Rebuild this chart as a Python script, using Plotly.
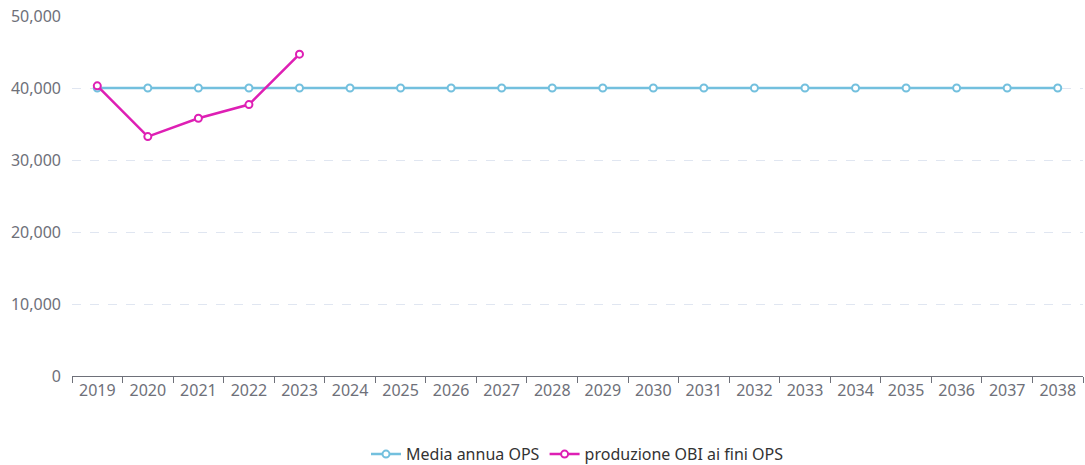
import plotly.graph_objects as go

years = [str(y) for y in range(2019, 2039)]
media_annua = [40000] * 20
produzione_years = ["2019", "2020", "2021", "2022", "2023"]
produzione = [40300, 33250, 35800, 37700, 44700]

blue = "#73C0DE"
magenta = "#DE1FB4"
font_family = "Noto Sans, Open Sans, sans-serif"

fig = go.Figure()
fig.add_trace(go.Scatter(
    x=years, y=media_annua, name="Media annua OPS", mode="lines+markers",
    line=dict(color=blue, width=2.5),
    marker=dict(symbol="circle", size=7, color="white", line=dict(color=blue, width=2)),
))
fig.add_trace(go.Scatter(
    x=produzione_years, y=produzione, name="produzione OBI ai fini OPS", mode="lines+markers",
    line=dict(color=magenta, width=2.5),
    marker=dict(symbol="circle", size=7, color="white", line=dict(color=magenta, width=2)),
))

# figure is a bit taller than the window so the bottom legend has room without shrinking the plot
fig.update_layout(
    width=1085, height=473,
    margin=dict(l=72, r=2, t=16, b=97),
    plot_bgcolor="white", paper_bgcolor="white",
    font=dict(family=font_family, size=16, color="#6E7079"),
    showlegend=True,
    legend=dict(orientation="h", x=0.5, xanchor="center", y=-0.17, yanchor="top",
                font=dict(size=16, color="#333333")),
    xaxis=dict(
        type="category", categoryorder="array", categoryarray=years,
        range=[-0.5, 19.5], automargin=False, ticklabeloverflow="allow",
        showgrid=False, showline=True, linecolor="#6E7079", linewidth=1,
        ticks="outside", tickson="boundaries", ticklen=6, tickcolor="#6E7079",
        tickfont=dict(size=16, color="#6E7079"), zeroline=False,
    ),
    yaxis=dict(
        range=[0, 50000], dtick=10000, tickformat=",", automargin=False,
        ticklabeloverflow="allow",
        showgrid=True, gridcolor="#E0E6F1", griddash="dash", gridwidth=1,
        showline=False, zeroline=False, ticks="",
        tickfont=dict(size=16, color="#6E7079"), ticklabelstandoff=10,
    ),
)

fig.write_html(
    "out.html",
    config={"displayModeBar": False},
    post_script="document.body.style.margin='0';document.body.style.overflow='hidden';",
)
